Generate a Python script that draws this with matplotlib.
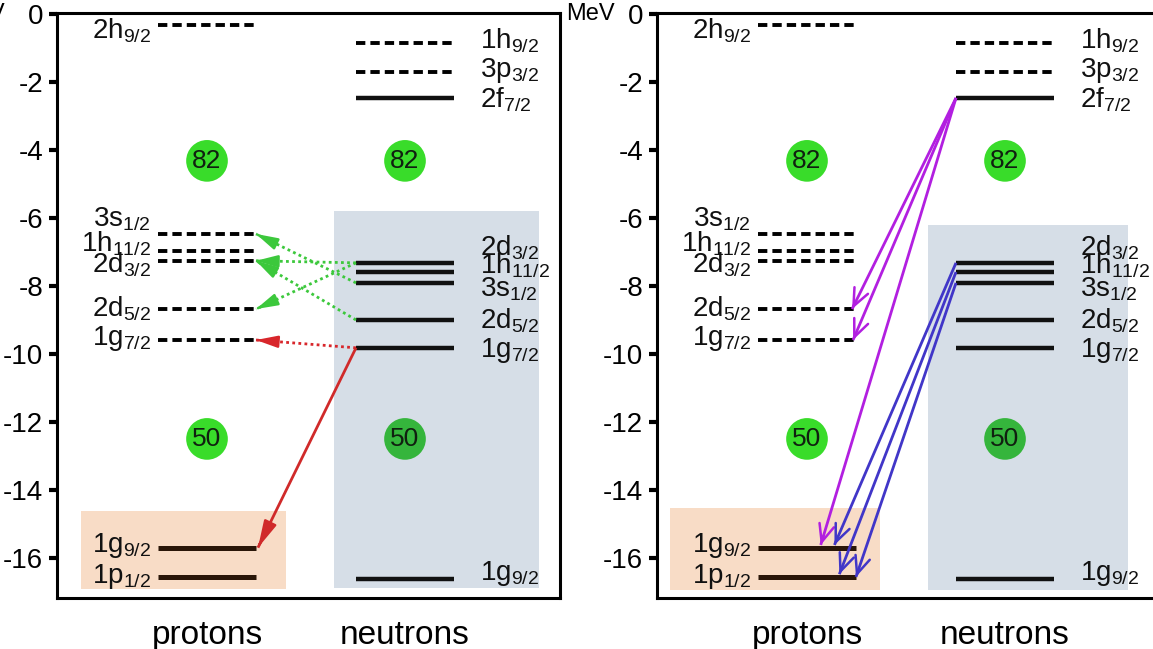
import matplotlib
matplotlib.use('Agg')
import matplotlib.pyplot as plt
from matplotlib.patches import Rectangle

plt.rcParams['font.family'] = ['Liberation Sans', 'DejaVu Sans']
plt.rcParams['axes.unicode_minus'] = False

# single-particle levels (MeV)
proton_levels = ['2h9/2', '3s1/2', '1h11/2', '2d3/2', '2d5/2', '1g7/2', '1g9/2', '1p1/2']
proton_energy = [-0.32, -6.47, -6.97, -7.26, -8.68, -9.59, -15.70, -16.56]
proton_filled = [False, False, False, False, False, False, True, True]

neutron_levels = ['1h9/2', '3p3/2', '2f7/2', '2d3/2', '1h11/2', '3s1/2', '2d5/2', '1g7/2', '1g9/2']
neutron_energy = [-0.85, -1.70, -2.47, -7.32, -7.59, -7.91, -9.00, -9.82, -16.62]
neutron_filled = [False, False, True, True, True, True, True, True, True]

magic_numbers = [82, 50]
magic_energy = [-4.32, -12.5]

yticks = [0, -2, -4, -6, -8, -10, -12, -14, -16]
xlabels = ['protons', 'neutrons']

# transitions: (neutron level, proton level, position of tip along proton level)
left_green = [('3s1/2', '3s1/2', 1.0), ('2d3/2', '2d3/2', 1.0),
              ('2d5/2', '2d3/2', 1.0), ('2d3/2', '2d5/2', 1.0)]
left_red_dotted = [('1g7/2', '1g7/2', 1.0)]
left_red = [('1g7/2', '1g9/2', 1.02)]
right_magenta = [('2f7/2', '2d5/2', 0.96), ('2f7/2', '1g7/2', 0.97), ('2f7/2', '1g9/2', 0.64)]
right_blue = [('2d3/2', '1g9/2', 0.78), ('1h11/2', '1p1/2', 0.83), ('3s1/2', '1p1/2', 1.0)]

# label baselines (layout)
proton_label_y = [-0.71, -6.26, -7.00, -7.59, -8.91, -9.74, -15.82, -16.74]
neutron_label_y = [-1.00, -1.85, -2.74, -7.09, -7.62, -8.32, -9.24, -10.09, -16.65]

# panel layout in pixels of the axis
PX0, PX1 = 101, 199   # proton level span
NX0, NX1 = 299, 397   # neutron level span

W, H = 1153, 649
fig = plt.figure(figsize=(W / 100, H / 100), dpi=100)


def sub(name):
    return r'$\mathregular{%s_{%s}}$' % (name[:2], name[2:])


def draw_panel(left, orange, blue, arrows, mev_x):
    ax = fig.add_axes([left / W, (H - 598) / H, 503 / W, 585 / H])
    ax.set_xlim(0, 503)
    ax.set_ylim(-17.18, 0.03)
    for s in ax.spines.values():
        s.set_linewidth(2.2)
    ax.set_yticks(yticks)
    ax.set_yticklabels([str(t) for t in yticks])
    ax.tick_params(axis='y', direction='out', length=6, width=3, labelsize=20, pad=4)
    ax.set_xticks([(PX0 + PX1) / 2, (NX0 + NX1) / 2])
    ax.set_xticklabels(xlabels, fontsize=24)
    ax.tick_params(axis='x', length=0, pad=16)

    ax.add_patch(Rectangle((orange[0], orange[3]), orange[1] - orange[0], orange[2] - orange[3],
                           facecolor='#f8dcc6', edgecolor='none', zorder=0))
    ax.add_patch(Rectangle((blue[0], blue[3]), blue[1] - blue[0], blue[2] - blue[3],
                           facecolor='#d6dee7', edgecolor='none', zorder=0))

    for e, filled in zip(proton_energy, proton_filled):
        if filled:
            ax.hlines(e, PX0, PX1, color='#2a1608', lw=3.6, zorder=3)
        else:
            ax.hlines(e, PX0, PX1, color='black', lw=2.8, linestyles=[(0, (2.4, 1.3))], zorder=3)
    for e, filled in zip(neutron_energy, neutron_filled):
        if filled:
            ax.hlines(e, NX0, NX1, color='#111111', lw=3.2, zorder=3)
        else:
            ax.hlines(e, NX0, NX1, color='black', lw=2.8, linestyles=[(0, (2.4, 1.3))], zorder=3)

    for name, y in zip(proton_levels, proton_label_y):
        ax.text(PX0 - 7, y, sub(name), ha='right', va='baseline', fontsize=20, color='#111111')
    for name, y in zip(neutron_levels, neutron_label_y):
        ax.text(NX1 + 26, y, sub(name), ha='left', va='baseline', fontsize=20, color='#111111')

    for m, e in zip(magic_numbers, magic_energy):
        for xc in [(PX0 + PX1) / 2, (NX0 + NX1) / 2]:
            inside = blue[0] < xc < blue[1] and blue[3] < e < blue[2]
            col = '#35b53c' if inside else '#39dc2a'
            ax.scatter([xc], [e], s=900, color=col, edgecolor='none', zorder=4)
            ax.text(xc, e, str(m), ha='center', va='center', fontsize=19, color='#102010', zorder=5)

    pe = dict(zip(proton_levels, proton_energy))
    ne = dict(zip(neutron_levels, neutron_energy))
    for trans, color, ls, style, ms in arrows:
        for src, dst, frac in trans:
            tip_x = PX0 + frac * (PX1 - PX0)
            tip_y = pe[dst] + (0.08 if frac < 0.95 else 0)
            x0, y0 = NX0, ne[src]
            ax.plot([x0, tip_x], [y0, tip_y], color=color, lw=2.0, linestyle=ls,
                    solid_capstyle='butt', zorder=6)
            # short solid segment near the tip carries the arrow head
            bx = tip_x + 0.02 * (x0 - tip_x)
            by = tip_y + 0.02 * (y0 - tip_y)
            ax.annotate('', xy=(tip_x, tip_y), xytext=(bx, by),
                        arrowprops=dict(arrowstyle=style, color=color, lw=1.8,
                                        shrinkA=0, shrinkB=0, mutation_scale=ms),
                        zorder=7)

    ax.text(mev_x, 0, 'MeV', ha='right', va='center', fontsize=17, clip_on=False)
    return ax


draw_panel(57, (24, 229, -14.62, -16.91), (277, 482, -5.79, -16.88),
           [(left_green, '#3cc83c', (0, (1, 1.2)), '-|>,head_length=0.8,head_width=0.22', 16),
            (left_red_dotted, '#d8262b', (0, (1, 1.2)), '-|>,head_length=0.8,head_width=0.22', 16),
            (left_red, '#d02a2a', '-', '-|>,head_length=0.9,head_width=0.22', 18)],
           mev_x=-52)
draw_panel(657, (13, 223, -14.53, -16.94), (271, 471, -6.2, -16.94),
           [(right_magenta, '#b21fe0', '-', '->,head_length=0.7,head_width=0.3', 18),
            (right_blue, '#4136c8', '-', '->,head_length=0.7,head_width=0.3', 18)],
           mev_x=-42)

fig.savefig('out.png', dpi=100)
